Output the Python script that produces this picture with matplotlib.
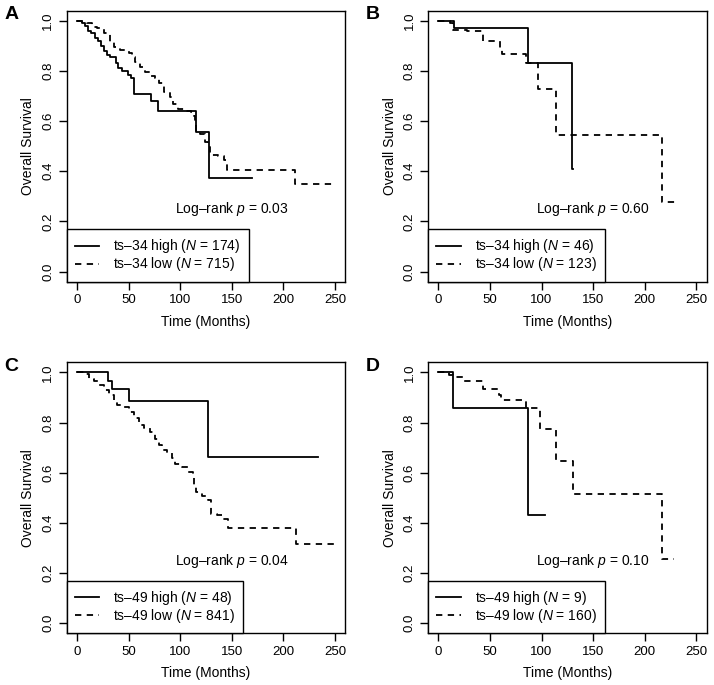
import matplotlib
matplotlib.use("Agg")
import matplotlib.pyplot as plt
import numpy as np

plt.rcParams['font.family'] = ['Liberation Sans', 'DejaVu Sans']
plt.rcParams['mathtext.fontset'] = 'custom'
plt.rcParams['mathtext.it'] = 'Liberation Sans:italic'
plt.rcParams['mathtext.rm'] = 'Liberation Sans'

# panel A: ts-34, cohort 1
a_hi_t = [0, 5, 8, 11, 14, 17, 20, 23, 26, 29, 32, 38, 40, 44, 49, 52, 55, 72, 78, 115, 128, 170]
a_hi_s = [1.0, 0.99, 0.98, 0.96, 0.95, 0.93, 0.92, 0.90, 0.88, 0.865, 0.855, 0.83, 0.81, 0.80, 0.785, 0.77, 0.707, 0.68, 0.64, 0.555, 0.375, 0.375]
a_lo_t = [0, 5, 10, 14.5, 19.5, 26, 32, 35.5, 42, 50, 53, 56.5, 61, 66, 71, 76, 79, 84, 90, 93.5, 98, 105, 110, 113, 114, 115, 119, 124, 127, 129, 137, 142, 145, 211, 250]
a_lo_s = [1.0, 0.995, 0.99, 0.975, 0.97, 0.95, 0.915, 0.895, 0.885, 0.87, 0.855, 0.835, 0.815, 0.795, 0.78, 0.77, 0.75, 0.715, 0.695, 0.67, 0.65, 0.64, 0.635, 0.62, 0.59, 0.555, 0.55, 0.515, 0.495, 0.465, 0.46, 0.445, 0.405, 0.35, 0.35]

# panel B: ts-34, cohort 2
b_hi_t = [0, 15, 87, 130, 130.5]
b_hi_s = [1.0, 0.97, 0.83, 0.41, 0.41]
b_lo_t = [0, 11, 14, 28, 43, 60, 62, 85, 97, 114, 217, 232]
b_lo_s = [1.0, 0.99, 0.965, 0.96, 0.92, 0.89, 0.867, 0.83, 0.726, 0.545, 0.276, 0.276]

# panel C: ts-49, cohort 1
c_hi_t = [0, 30, 34, 50.5, 126.5, 234]
c_hi_s = [1.0, 0.967, 0.932, 0.885, 0.663, 0.663]
c_lo_t = [0, 6.5, 11.3, 16, 21, 26, 30.6, 35.5, 38.7, 45, 50, 55, 60, 64.5, 71, 76, 79, 82, 87, 92, 95, 101.6, 108, 112, 113.5, 115.5, 121, 127, 129.7, 135.5, 141, 146.8, 212, 250]
c_lo_s = [1.0, 0.995, 0.975, 0.965, 0.95, 0.93, 0.91, 0.883, 0.87, 0.863, 0.843, 0.817, 0.79, 0.777, 0.763, 0.736, 0.71, 0.69, 0.677, 0.657, 0.636, 0.623, 0.603, 0.59, 0.543, 0.523, 0.506, 0.49, 0.436, 0.43, 0.416, 0.38, 0.317, 0.317]

# panel D: ts-49, cohort 2
d_hi_t = [0, 14.6, 86.7, 103]
d_hi_s = [1.0, 0.857, 0.43, 0.43]
d_lo_t = [0, 10.7, 14, 24, 43, 59, 61, 85, 99, 114, 130.4, 216.7, 228.7]
d_lo_s = [1.0, 0.99, 0.98, 0.967, 0.933, 0.91, 0.89, 0.858, 0.776, 0.647, 0.517, 0.256, 0.256]

letters = ['A', 'B', 'C', 'D']
hi_labels = ['ts\u201334 high ($N$ = 174)', 'ts\u201334 high ($N$ = 46)',
             'ts\u201349 high ($N$ = 48)', 'ts\u201349 high ($N$ = 9)']
lo_labels = ['ts\u201334 low ($N$ = 715)', 'ts\u201334 low ($N$ = 123)',
             'ts\u201349 low ($N$ = 841)', 'ts\u201349 low ($N$ = 160)']
pvals = ['0.03', '0.60', '0.04', '0.10']

curves = [(a_hi_t, a_hi_s, a_lo_t, a_lo_s),
          (b_hi_t, b_hi_s, b_lo_t, b_lo_s),
          (c_hi_t, c_hi_s, c_lo_t, c_lo_s),
          (d_hi_t, d_hi_s, d_lo_t, d_lo_s)]

fig = plt.figure(figsize=(7.14, 6.85), dpi=100)
W, H = 714, 685
lefts = [66.7, 428]
tops = [10.7, 362.3]
aw, ah = 278.6, 271.0

for i in range(4):
    l = lefts[i % 2]
    t = tops[i // 2]
    ax = fig.add_axes([l / W, 1 - (t + ah) / H, aw / W, ah / H])
    hi_t, hi_s, lo_t, lo_s = curves[i]
    ax.step(hi_t, hi_s, where='post', color='black', lw=1.3, label=hi_labels[i])
    ax.step(lo_t, lo_s, where='post', color='black', lw=1.3, ls=(0, (3.5, 3)), label=lo_labels[i])
    ax.set_xlim(-10, 260)
    ax.set_ylim(-0.04, 1.04)
    ax.set_xticks([0, 50, 100, 150, 200, 250])
    ax.set_yticks([0.0, 0.2, 0.4, 0.6, 0.8, 1.0])
    ax.set_yticklabels(['0.0', '0.2', '0.4', '0.6', '0.8', '1.0'], rotation=90, va='center')
    ax.tick_params(direction='out', length=6, width=1, labelsize=9.5, pad=3, colors='black')
    for sp in ax.spines.values():
        sp.set_linewidth(1)
    ax.set_xlabel('Time (Months)', fontsize=10, labelpad=6)
    ax.set_ylabel('Overall Survival', fontsize=10, labelpad=5)
    ax.text(150, 0.25, 'Log\u2013rank $p$ = ' + pvals[i], ha='center', va='center', fontsize=10)
    leg = ax.legend(loc='lower left', bbox_to_anchor=(0, 0), borderaxespad=0, fancybox=False,
                    edgecolor='black', framealpha=1, fontsize=10, handlelength=1.75,
                    borderpad=0.6, labelspacing=0.0, handletextpad=1.0)
    leg.get_frame().set_linewidth(1)
    fig.text((l - 62) / W, 1 - (t + 4) / H, letters[i], fontsize=14, fontweight='bold', va='center', ha='left')

fig.savefig('out.png', dpi=100)
